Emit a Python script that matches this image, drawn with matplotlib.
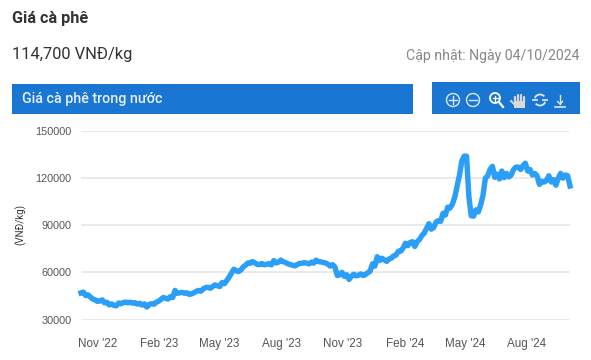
import pandas as pd
import matplotlib.pyplot as plt
from matplotlib.patches import Circle, Rectangle, Arc

# Gia ca phe, two values per week
start_date = '2022-10-07'
end_date = '2024-10-04'
prices = [46900, 47400, 45200, 45700, 44300, 43000, 42500, 41500, 41800, 42500,
          40600, 41000, 39300, 39900, 39000, 38700, 40500, 40000, 40800, 41100,
          40600, 41000, 40400, 40700, 39800, 40300, 39200, 39900, 37900, 39600,
          40000, 39700, 41000, 41600, 42800, 44000, 43500, 43000, 44500, 44000,
          48500, 46700, 47000, 47300, 46700, 47000, 46000, 46300, 47000, 47900,
          48500, 48000, 49500, 50300, 50500, 49900, 51000, 52000, 51500, 51000,
          53500, 52800, 54800, 57000, 59500, 62000, 61000, 60500, 61500, 63500,
          64500, 66000, 65800, 66900, 66000, 65000, 65000, 65600, 64800, 65200,
          65500, 64800, 67500, 66000, 66500, 67800, 66800, 66300, 65500, 65000,
          64500, 64200, 65000, 65700, 65800, 66200, 65900, 65400, 66500, 65900,
          67800, 66800, 66700, 66300, 66000, 65200, 64000, 64900, 63500, 58000,
          58500, 60000, 57500, 58500, 55500, 57500, 58800, 57800, 58200, 59000,
          58000, 58600, 59800, 60800, 65500, 64000, 70000, 67500, 69000, 68000,
          67000, 68500, 69000, 70500, 71000, 73500, 73500, 75500, 78500, 77000,
          79000, 79500, 76500, 79500, 81000, 83500, 85000, 88000, 91000, 87500,
          88500, 92000, 93000, 92500, 97600, 96500, 101500, 101000, 103500, 108000,
          115000, 122000, 131000, 134000, 134000, 108000, 96000, 95800, 99800, 98500,
          103000, 109000, 120000, 121500, 125500, 127500, 120500, 122500, 119500, 124500,
          120300, 123000, 120800, 122000, 125500, 127000, 127000, 125500, 128000, 129500,
          124500, 125500, 122000, 123000, 121500, 116000, 118000, 117500, 118500, 121500,
          117500, 119000, 115500, 120000, 123000, 120000, 122000, 121500, 115000]

y_ticks = [30000, 60000, 90000, 120000, 150000]
x_tick_dates = ['2022-11-01', '2023-02-01', '2023-05-01', '2023-08-01',
                '2023-11-01', '2024-02-01', '2024-05-01', '2024-08-01']
x_tick_labels = ["Nov '22", "Feb '23", "May '23", "Aug '23",
                 "Nov '23", "Feb '24", "May '24", "Aug '24"]

W, H = 591, 360
BLUE = '#1976d2'
plt.rcParams['font.family'] = ['Roboto', 'DejaVu Sans']

fig = plt.figure(figsize=(W / 100, H / 100), dpi=100)

# Lop phu theo toa do pixel cho phan tieu de
bg = fig.add_axes([0, 0, 1, 1])
bg.set_xlim(0, W)
bg.set_ylim(H, 0)
bg.axis('off')

bg.text(12, 19, 'Giá cà phê', fontsize=11.7, fontweight='bold', color='#333333', va='center')
bg.text(12, 54.5, '114,700 VNĐ/kg', fontsize=11.9, color='#333333', va='center')
bg.text(580, 56, 'Cập nhật: Ngày 04/10/2024', fontsize=10.2, color='#888888', va='center', ha='right')

bg.add_patch(Rectangle((12, 84), 401, 30, color=BLUE, lw=0))
bg.text(22, 99.5, 'Giá cà phê trong nước', fontsize=10.3, fontweight='medium', color='#e8f1fb', va='center')
bg.add_patch(Rectangle((432, 82), 148, 32, color=BLUE, lw=0))

# Cac bieu tuong tren thanh cong cu
ICON = '#dce9f7'
for cx in [453, 473]:
    bg.add_patch(Circle((cx, 100), 6.5, fill=False, ec=ICON, lw=1))
    bg.plot([cx - 4, cx + 4], [100, 100], color=ICON, lw=1)
bg.plot([453, 453], [96, 104], color=ICON, lw=1)
bg.add_patch(Circle((495, 98), 5, fill=False, ec='white', lw=1.3))
bg.plot([492.5, 497.5], [98, 98], color='white', lw=0.9)
bg.plot([495, 495], [95.5, 100.5], color='white', lw=0.9)
bg.plot([499, 503], [102, 107], color='white', lw=1.6)
# ban tay
for fx, top in zip([515, 518, 521, 524], [97, 95, 95, 97]):
    bg.plot([fx, fx], [top, 102], color='#d8d8d8', lw=1.6, solid_capstyle='round')
bg.add_patch(Rectangle((514, 101), 11, 7, color='#d8d8d8', lw=0))
bg.plot([511, 515], [101, 105], color='#d8d8d8', lw=1.4)
# lam moi
bg.add_patch(Arc((540, 100), 11, 11, theta1=200, theta2=320, color=ICON, lw=1.3))
bg.add_patch(Arc((540, 100), 11, 11, theta1=20, theta2=140, color=ICON, lw=1.3))
bg.plot([533, 537], [100, 100], color=ICON, lw=1.3)
bg.plot([543, 547], [100, 100], color=ICON, lw=1.3)
# tai xuong
bg.plot([560, 560], [95, 104], color=ICON, lw=1)
bg.plot([557.5, 560, 562.5], [101.5, 104, 101.5], color=ICON, lw=1)
bg.plot([555, 565], [107, 107], color=ICON, lw=1.2)

# Bieu do chinh
top, bottom, left, right = 131, 319.5, 81, 570
ax = fig.add_axes([left / W, 1 - bottom / H, (right - left) / W, (bottom - top) / H])
ax.patch.set_alpha(0)

dates = pd.date_range(start_date, end_date, periods=len(prices))
ax.plot(dates, prices, color='#2b9ef8', lw=3.9, clip_on=False, solid_joinstyle='round', zorder=3)

ax.set_xlim(pd.Timestamp(start_date), pd.Timestamp(end_date))
ax.set_ylim(30000, 150000)
ax.set_yticks(y_ticks)
ax.set_xticks(pd.to_datetime(x_tick_dates))
ax.set_xticklabels(x_tick_labels, family='Liberation Sans')
ax.set_yticklabels([str(v) for v in y_ticks], family='Liberation Sans')
ax.grid(axis='y', color='#e6e6e6', lw=1.2)
ax.set_axisbelow(True)
ax.tick_params(axis='x', length=0, labelsize=8.4, labelcolor='#555555', pad=13)
ax.tick_params(axis='y', length=0, labelsize=7.8, labelcolor='#555555', pad=7)
for s in ax.spines.values():
    s.set_visible(False)

bg.text(21, 224, '(VNĐ/kg)', fontsize=7, color='#333333', rotation=90, va='center', ha='center')

fig.savefig('out.png', dpi=100)
